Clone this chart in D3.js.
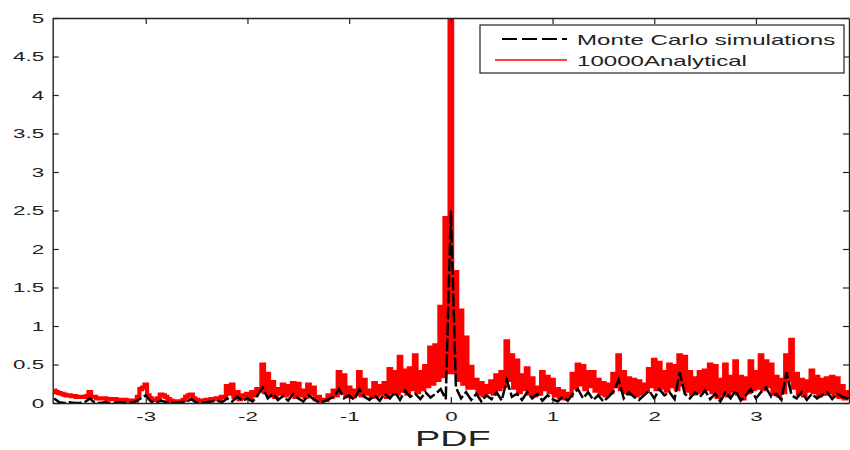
<!DOCTYPE html>
<meta charset="utf-8">
<style>
  body { margin: 0; background: #fff; }
  text { font-family: "Liberation Sans", Arial, sans-serif; fill: #222; }
</style>
<svg id="chart" width="850" height="450"></svg>
<script src="https://d3js.org/d3.v7.min.js"></script>
<script>

// grid of the curves: first x and spacing
var xFirst = -3.90, xStep = 0.05;

// red curve, upper values at xFirst + i*xStep
var analyticalTop = [
  0.16, 0.13, 0.11, 0.10, 0.09, 0.08, 0.08, 0.14, 0.08, 0.06,
  0.06, 0.05, 0.05, 0.04, 0.04, 0.03, 0.03, 0.18, 0.24, 0.06,
  0.04, 0.11, 0.08, 0.03, 0.02, 0.02, 0.08, 0.11, 0.04, 0.03,
  0.04, 0.05,
  0.06, 0.08, 0.22, 0.24, 0.14, 0.10, 0.12, 0.14, 0.18, 0.50,
  0.38, 0.27, 0.18, 0.24, 0.22, 0.26, 0.25, 0.16, 0.24, 0.20,
  0.08, 0.04, 0.10, 0.16, 0.40, 0.36, 0.20, 0.16, 0.40, 0.30,
  0.16,
  0.26, 0.22, 0.26, 0.44, 0.40, 0.60, 0.42, 0.45, 0.62, 0.40,
  0.48, 0.72, 0.75, 1.25, 2.40, 9.00, 1.70, 1.20, 0.85, 0.47,
  0.30, 0.26, 0.22, 0.28, 0.36, 0.40, 0.80, 0.62, 0.55, 0.36,
  0.45, 0.32,
  0.20, 0.40, 0.34, 0.30, 0.18, 0.15, 0.12, 0.38, 0.50, 0.48,
  0.40, 0.40, 0.30, 0.26, 0.24, 0.38, 0.62, 0.40, 0.32, 0.30,
  0.28, 0.24, 0.44, 0.56, 0.52, 0.40, 0.50, 0.48, 0.62, 0.60,
  0.40, 0.32,
  0.40, 0.42, 0.50, 0.48, 0.30, 0.50, 0.34, 0.54, 0.34, 0.32,
  0.54, 0.40, 0.62, 0.54, 0.50, 0.34, 0.30, 0.62, 0.82, 0.38,
  0.30, 0.28, 0.42, 0.34, 0.30, 0.32, 0.34, 0.32, 0.22, 0.14,
  0.20
];

// red curve, dips between the upper values (at x + xStep/2)
var analyticalDip = [
  0.14, 0.12, 0.10, 0.09, 0.08, 0.08, 0.09, 0.08, 0.06, 0.06,
  0.05, 0.05, 0.04, 0.04, 0.03, 0.03, 0.08, 0.20, 0.10, 0.04,
  0.06, 0.10, 0.05, 0.02, 0.02, 0.04, 0.10, 0.06, 0.03, 0.03,
  0.04, 0.05,
  0.05, 0.08, 0.12, 0.08, 0.05, 0.07, 0.06, 0.10, 0.16, 0.14,
  0.10, 0.08, 0.12, 0.10, 0.12, 0.08, 0.10, 0.08, 0.12, 0.05,
  0.03, 0.04, 0.08, 0.10, 0.14, 0.10, 0.08, 0.12, 0.10, 0.12,
  0.08,
  0.10, 0.12, 0.08, 0.14, 0.12, 0.16, 0.12, 0.18, 0.14, 0.18,
  0.22, 0.25, 0.30, 0.35, 0.40, 0.40, 0.30, 0.25, 0.20, 0.20,
  0.12, 0.10, 0.14, 0.12, 0.18, 0.22, 0.30, 0.20, 0.14, 0.18,
  0.12, 0.10,
  0.12, 0.18, 0.14, 0.10, 0.08, 0.06, 0.10, 0.20, 0.24, 0.18,
  0.22, 0.16, 0.12, 0.10, 0.14, 0.22, 0.18, 0.14, 0.12, 0.10,
  0.12, 0.16, 0.22, 0.18, 0.20, 0.16, 0.22, 0.18, 0.24, 0.16,
  0.12, 0.14,
  0.16, 0.18, 0.14, 0.08, 0.12, 0.10, 0.16, 0.12, 0.06, 0.14,
  0.18, 0.20, 0.18, 0.22, 0.12, 0.10, 0.14, 0.30, 0.20, 0.12,
  0.10, 0.16, 0.14, 0.10, 0.12, 0.14, 0.10, 0.08, 0.06, 0.08
];

// black dashed curve at xFirst + i*xStep
var monteCarlo = [
  0.06, 0.01, 0.00, 0.01, 0.00, 0.00, 0.01, 0.06, 0.00, 0.00,
  0.01, 0.00, 0.00, 0.01, 0.00, 0.00, 0.02, 0.06, 0.10, 0.02,
  0.00, 0.03, 0.01, 0.00, 0.00, 0.01, 0.02, 0.05, 0.00, 0.00,
  0.01, 0.02,
  0.03, 0.01, 0.06, 0.02, 0.08, 0.03, 0.06, 0.02, 0.10, 0.20,
  0.06, 0.12, 0.04, 0.09, 0.03, 0.12, 0.06, 0.02, 0.10, 0.05,
  0.01, 0.02, 0.05, 0.08, 0.18, 0.06, 0.10, 0.04, 0.18, 0.08,
  0.04,
  0.10, 0.03, 0.12, 0.06, 0.14, 0.04, 0.16, 0.08, 0.12, 0.05,
  0.14, 0.07, 0.12, 0.18, 0.05, 2.50, 0.20, 0.06, 0.14, 0.04,
  0.12, 0.02, 0.10, 0.05, 0.14, 0.03, 0.30, 0.08, 0.12, 0.04,
  0.14, 0.06,
  0.12, 0.03, 0.10, 0.05, 0.02, 0.08, 0.03, 0.12, 0.18, 0.06,
  0.14, 0.04, 0.10, 0.02, 0.08, 0.15, 0.30, 0.06, 0.14, 0.08,
  0.04, 0.10, 0.16, 0.06, 0.18, 0.10, 0.14, 0.05, 0.40, 0.12,
  0.06, 0.14,
  0.08, 0.16, 0.05, 0.12, 0.02, 0.14, 0.06, 0.16, 0.03, 0.10,
  0.18, 0.06, 0.14, 0.20, 0.08, 0.12, 0.04, 0.40, 0.10, 0.06,
  0.14, 0.04, 0.12, 0.06, 0.10, 0.14, 0.05, 0.12, 0.08, 0.06,
  0.10
];

var xTicks = [-3, -2, -1, 0, 1, 2, 3];
var yTicks = [0, 0.5, 1, 1.5, 2, 2.5, 3, 3.5, 4, 4.5, 5];
var legendLabels = ["Monte Carlo simulations", "10000Analytical"];
var xLabel = "PDF";

// the picture is stretched sideways, text too
var stretch = 1.72;

var svg = d3.select("#chart"),
    plotL = 52.7, plotR = 849, plotT = 18, plotB = 403;

var x = d3.scaleLinear().domain([-3.915, 3.915]).range([plotL, plotR]);
var y = d3.scaleLinear().domain([0, 5]).range([plotB, plotT]);

svg.append("defs").append("clipPath").attr("id", "plotclip")
  .append("rect")
  .attr("x", plotL).attr("y", plotT)
  .attr("width", plotR - plotL).attr("height", plotB - plotT);

// build the point lists
var redPts = [];
analyticalTop.forEach(function(v, i) {
  var xv = xFirst + i * xStep;
  redPts.push([xv, v]);
  if (i < analyticalDip.length) redPts.push([xv + xStep / 2, analyticalDip[i]]);
});
var blackPts = monteCarlo.map(function(v, i) { return [xFirst + i * xStep, v]; });

var plot = svg.append("g").attr("clip-path", "url(#plotclip)");

plot.append("path")
  .datum(redPts)
  .attr("fill", "none")
  .attr("stroke", "#ff0000")
  .attr("stroke-width", 4.2)
  .attr("stroke-linejoin", "miter")
  .attr("d", d3.line().curve(d3.curveStep)
    .x(function(d) { return x(d[0]); })
    .y(function(d) { return y(d[1]); }));

plot.append("path")
  .datum(blackPts)
  .attr("fill", "none")
  .attr("stroke", "#000")
  .attr("stroke-width", 2.5)
  .attr("stroke-dasharray", "13,3")
  .attr("d", d3.line()
    .x(function(d) { return x(d[0]); })
    .y(function(d) { return y(d[1]); }));

// axes, ticks inward on all four sides
function styleAxis(g) {
  g.selectAll(".domain").attr("stroke", "#222").attr("stroke-width", 1.4);
  g.selectAll(".tick line").attr("stroke", "#222").attr("stroke-width", 1.2);
  g.selectAll("text").attr("font-size", 13).attr("fill", "#222")
    .attr("font-family", "Liberation Sans, Arial, sans-serif");
}

var xAxis = svg.append("g")
  .attr("transform", "translate(0," + plotB + ")")
  .call(d3.axisBottom(x).tickValues(xTicks).tickSize(-6).tickSizeOuter(0).tickPadding(9)
    .tickFormat(function(d) { return String(d); }));
styleAxis(xAxis);
xAxis.selectAll("text").attr("transform", "scale(" + stretch + ",1)");

var yAxis = svg.append("g")
  .attr("transform", "translate(" + plotL + ",0)")
  .call(d3.axisLeft(y).tickValues(yTicks).tickSize(-6).tickSizeOuter(0).tickPadding(5)
    .tickFormat(function(d) { return String(d); }));
styleAxis(yAxis);
yAxis.selectAll("text").attr("transform", "scale(" + stretch + ",1)");

var topAxis = svg.append("g")
  .attr("transform", "translate(0," + plotT + ")")
  .call(d3.axisTop(x).tickValues(xTicks).tickSize(-6).tickSizeOuter(0).tickFormat(""));
styleAxis(topAxis);

var rightAxis = svg.append("g")
  .attr("transform", "translate(" + plotR + ",0)")
  .call(d3.axisRight(y).tickValues(yTicks).tickSize(-6).tickSizeOuter(0).tickFormat(""));
styleAxis(rightAxis);

// x label
svg.append("text")
  .attr("transform", "translate(" + ((plotL + plotR) / 2 + 2) + ",446) scale(" + stretch + ",1)")
  .attr("text-anchor", "middle")
  .attr("font-size", 22)
  .attr("fill", "#111")
  .text(xLabel);

// legend
var legend = svg.append("g");
legend.append("rect")
  .attr("x", 480).attr("y", 25).attr("width", 364).attr("height", 48)
  .attr("fill", "#fff").attr("stroke", "#222").attr("stroke-width", 1.2);

legend.append("line")
  .attr("x1", 502).attr("x2", 567).attr("y1", 39).attr("y2", 39)
  .attr("stroke", "#000").attr("stroke-width", 2).attr("stroke-dasharray", "15,5");
legend.append("line")
  .attr("x1", 495).attr("x2", 567).attr("y1", 60).attr("y2", 60)
  .attr("stroke", "#ff0000").attr("stroke-width", 1.6);

legendLabels.forEach(function(t, i) {
  legend.append("text")
    .attr("transform", "translate(577," + (44.5 + i * 21.5) + ") scale(" + stretch + ",1)")
    .attr("font-size", 14)
    .text(t);
});

</script>
